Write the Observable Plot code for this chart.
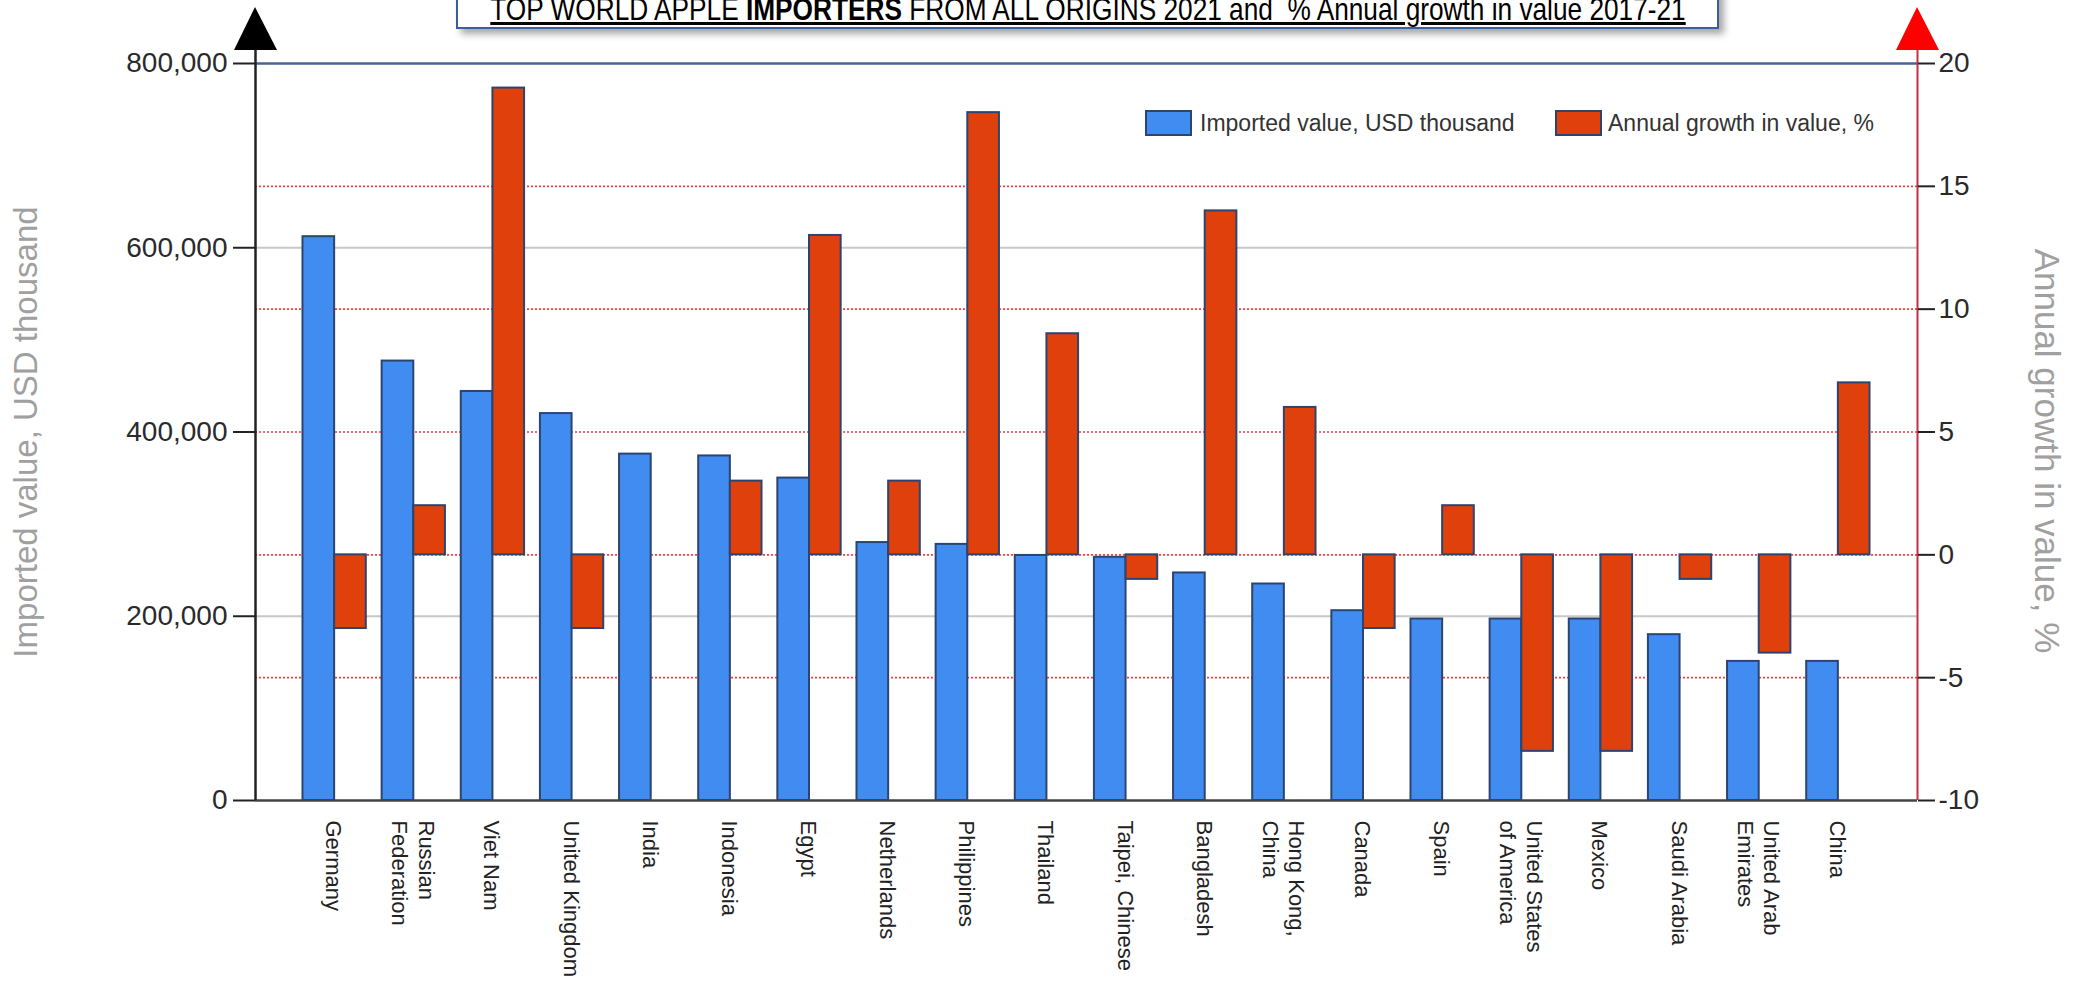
<!DOCTYPE html>
<html><head><meta charset="utf-8">
<script src="https://cdn.jsdelivr.net/npm/d3@7"></script>
<script src="https://cdn.jsdelivr.net/npm/@observablehq/plot@0.6"></script>
<style>
body{margin:0;background:#fff;font-family:"Liberation Sans",Arial,sans-serif;}
#wrap{position:relative;width:2073px;height:982px;overflow:hidden;}
#title{position:absolute;left:456px;top:-12px;width:1259px;height:37px;border:2px solid #3d5d9c;background:#fff;box-shadow:5px 5px 7px rgba(0,0,0,0.35);z-index:2;overflow:hidden}
#title span{position:absolute;left:50%;top:3px;font-size:32px;line-height:32px;transform:translateX(-50%) scaleX(0.82);transform-origin:center;white-space:nowrap;text-decoration:underline;color:#000}
.sw{position:absolute;width:43px;height:22px;border:2px solid #2b4570;}
.lt{position:absolute;font-size:23px;line-height:26px;color:#333;white-space:nowrap}
</style>
</head><body>
<div id="wrap">
  <div id="chart"></div>
  <div id="title"><span>TOP WORLD APPLE <b>IMPORTERS</b> FROM ALL ORIGINS 2021 and&nbsp; % Annual growth in value 2017-21</span></div>
  <div class="sw" style="left:1145px;top:110px;background:#418cf0"></div>
  <div class="lt" style="left:1200px;top:110px">Imported value, USD thousand</div>
  <div class="sw" style="left:1555px;top:110px;background:#e0400b"></div>
  <div class="lt" style="left:1608px;top:110px">Annual growth in value, %</div>
</div>
<script>
const countries = ["Germany","Russian\nFederation","Viet Nam","United Kingdom","India","Indonesia","Egypt","Netherlands","Philippines","Thailand","Taipei, Chinese","Bangladesh","Hong Kong,\nChina","Canada","Spain","United States\nof America","Mexico","Saudi Arabia","United Arab\nEmirates","China"];
const importedValue = [612000,477000,444000,420000,376000,374000,350000,280000,278000,266000,264000,247000,235000,206000,197000,197000,197000,180000,151000,151000];
const growthPct = [-3,2,19,-3,0,3,13,3,18,9,-1,14,6,-3,2,-8,-8,-1,-4,7];
const leftTicks = [0,200000,400000,600000,800000];
const rightTicks = [-10,-5,0,5,10,15,20];
const leftMax = 800000, rightMin = -10, rightMax = 20;

const gToY = g => (g - rightMin) / (rightMax - rightMin) * leftMax;
const yToG = v => Math.round(v / leftMax * (rightMax - rightMin) + rightMin);

const rows = countries.map((c, i) => ({c, pos: i + 1, v: importedValue[i], g: growthPct[i]}));
const barHalf = 0.4;

const chart = Plot.plot({
  width: 2073, height: 982,
  marginLeft: 255, marginRight: 156, marginTop: 63, marginBottom: 182,
  x: {domain: [0, countries.length + 1], axis: null},
  y: {domain: [0, leftMax], axis: null},
  style: {fontFamily: '"Liberation Sans", Arial, sans-serif', background: "transparent"},
  marks: [
    Plot.ruleY([200000, 600000], {stroke: "#c8c8c8", strokeWidth: 2}),
    Plot.ruleY(rightTicks.filter(t => t > rightMin && t < rightMax).map(gToY), {stroke: "#ff3b3b", strokeWidth: 1.6, strokeDasharray: "2,2"}),
    Plot.ruleY([leftMax], {stroke: "#4a6496", strokeWidth: 2.5}),
    Plot.rect(rows, {x1: d => d.pos - barHalf, x2: d => d.pos, y1: 0, y2: "v", fill: "#418cf0", stroke: "#2b4570", strokeWidth: 2}),
    Plot.rect(rows.filter(d => d.g !== 0), {x1: d => d.pos, x2: d => d.pos + barHalf, y1: () => gToY(0), y2: d => gToY(d.g), fill: "#e0400b", stroke: "#2b4570", strokeWidth: 2}),
    Plot.ruleY([0], {stroke: "#444", strokeWidth: 2.5}),
    Plot.ruleX([0], {stroke: "#222", strokeWidth: 2.5, insetTop: -13}),
    Plot.ruleX([countries.length + 1], {stroke: "#c0304a", strokeWidth: 2, insetTop: -13}),
    Plot.axisY(leftTicks, {anchor: "left", tickSize: 22, tickPadding: 6, fontSize: 28, tickFormat: d3.format(","), stroke: "#222", strokeWidth: 2, fill: "#2a2a2a", label: null}),
    Plot.axisY(rightTicks.map(gToY), {anchor: "right", tickSize: 17, tickPadding: 4, fontSize: 28, tickFormat: v => String(yToG(v)), stroke: "#222", strokeWidth: 2, fill: "#2a2a2a", label: null}),
    Plot.text(rows, {x: "pos", y: 0, text: "c", rotate: 90, textAnchor: "start", lineAnchor: "middle", dy: 20, fontSize: 22, lineHeight: 1.2, fill: "#222"}),
    Plot.text(["Imported value, USD thousand"], {frameAnchor: "left", dx: -229, rotate: -90, textAnchor: "middle", fontSize: 33, fill: "#a0a0a0"}),
    Plot.text(["Annual growth in value, %"], {frameAnchor: "right", dx: 129, dy: 19, rotate: 90, textAnchor: "middle", fontSize: 35, fill: "#a0a0a0"})
  ]
});
document.getElementById("chart").appendChild(chart);

// axis arrows, positioned from the scales
const sx = chart.scale("x"), sy = chart.scale("y");
const yTop = sy.apply(leftMax);
const svg = d3.select(chart);
[[0, "#000"], [countries.length + 1, "#ff0000"]].forEach(([xv, col]) => {
  const cx = sx.apply(xv);
  svg.append("polygon")
    .attr("points", `${cx - 21},${yTop - 13} ${cx},${yTop - 56} ${cx + 22},${yTop - 13}`)
    .attr("fill", col);
});
</script>
</body></html>
